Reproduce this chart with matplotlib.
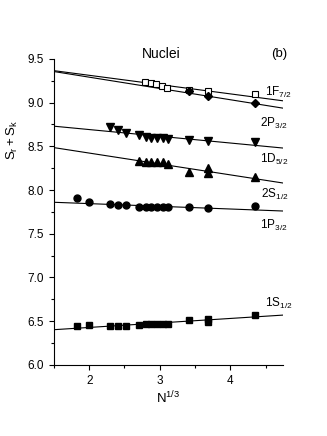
import numpy as np
import matplotlib
matplotlib.use('Agg')
import matplotlib.pyplot as plt
from matplotlib.ticker import MultipleLocator

plt.rcParams['font.family'] = ['Liberation Sans', 'DejaVu Sans']
plt.rcParams['mathtext.fontset'] = 'custom'
plt.rcParams['mathtext.rm'] = 'Liberation Sans'
plt.rcParams['mathtext.it'] = 'Liberation Sans'

# data (x = N^(1/3))
x_all = [1.82, 2.0, 2.29, 2.41, 2.52, 2.71, 2.80, 2.88, 2.96, 3.04, 3.11, 3.42, 3.69, 4.35]

# 1S_1/2 (filled squares)
s1_x = [1.82, 2.0, 2.29, 2.41, 2.52, 2.71, 2.80, 2.88, 2.96, 3.04, 3.11, 3.42, 3.69, 3.69, 4.35]
s1_y = [6.445, 6.456, 6.442, 6.442, 6.442, 6.46, 6.468, 6.468, 6.468, 6.464, 6.464, 6.51, 6.522, 6.495, 6.57]

# 2S_1/2 / 1P_3/2 (filled circles)
s2_y = [7.913, 7.864, 7.837, 7.83, 7.826, 7.81, 7.81, 7.81, 7.81, 7.81, 7.81, 7.803, 7.80, 7.815]

# 1D_5/2 (up triangles)
d1_x = [2.71, 2.80, 2.88, 2.96, 3.04, 3.11, 3.42, 3.69, 3.69, 4.35]
d1_y = [8.337, 8.325, 8.325, 8.325, 8.32, 8.30, 8.21, 8.256, 8.19, 8.154]

# 2P_3/2 (down triangles)
p2_x = [2.29, 2.41, 2.52, 2.71, 2.80, 2.88, 2.96, 3.04, 3.11, 3.42, 3.69, 4.35]
p2_y = [8.718, 8.688, 8.657, 8.63, 8.604, 8.60, 8.60, 8.593, 8.585, 8.573, 8.565, 8.554]

# 1F_7/2 (open squares)
f1_x = [2.79, 2.87, 2.94, 3.03, 3.10, 3.42, 3.69, 4.35]
f1_y = [9.235, 9.225, 9.21, 9.19, 9.17, 9.14, 9.13, 9.10]

# filled diamonds
dm_x = [3.42, 3.69, 4.35]
dm_y = [9.134, 9.077, 8.99]

# fitted lines, values at the axis ends
fit_x = [1.5, 4.75]
fit_1s = [6.403, 6.57]
fit_2s = [7.86, 7.76]
fit_1d = [8.485, 8.08]
fit_2p = [8.73, 8.48]
fit_1f = [9.365, 9.02]
fit_dm = [9.355, 8.936]

fig = plt.figure(figsize=(3.27, 4.36), dpi=100)
ax = fig.add_axes([0.165, 0.163, 0.701, 0.702])

for fy in [fit_1s, fit_2s, fit_1d, fit_2p, fit_1f, fit_dm]:
    ax.plot(fit_x, fy, color='black', lw=0.8)

ax.plot(s1_x, s1_y, 's', color='black', ms=5)
ax.plot(x_all, s2_y, 'o', color='black', ms=5)
ax.plot(d1_x, d1_y, '^', color='black', ms=5.5)
ax.plot(p2_x, p2_y, 'v', color='black', ms=5.5)
ax.plot(f1_x, f1_y, 's', mfc='white', mec='black', mew=0.8, ms=5)
ax.plot(dm_x, dm_y, 'D', color='black', ms=4.5)

labels = [(4.49, 9.12, r'$\mathregular{1F_{7/2}}$'),
          (4.42, 8.76, r'$\mathregular{2P_{3/2}}$'),
          (4.42, 8.35, r'$\mathregular{1D_{5/2}}$'),
          (4.44, 7.95, r'$\mathregular{2S_{1/2}}$'),
          (4.42, 7.60, r'$\mathregular{1P_{3/2}}$'),
          (4.49, 6.70, r'$\mathregular{1S_{1/2}}$')]
for lx, ly, txt in labels:
    ax.text(lx, ly, txt, fontsize=8.5, ha='left', va='center')

ax.text(3.02, 9.55, 'Nuclei', fontsize=10, ha='center', va='center')
ax.text(4.7, 9.55, '(b)', fontsize=9.5, ha='center', va='center')

ax.set_xlim(1.5, 4.75)
ax.set_ylim(6.0, 9.5)
ax.xaxis.set_major_locator(MultipleLocator(1))
ax.xaxis.set_minor_locator(MultipleLocator(0.5))
ax.yaxis.set_major_locator(MultipleLocator(0.5))
ax.yaxis.set_minor_locator(MultipleLocator(0.25))
ax.yaxis.set_major_formatter(matplotlib.ticker.FormatStrFormatter('%.1f'))
ax.tick_params(which='both', direction='out', labelsize=8.5, width=0.8)
ax.tick_params(which='major', length=3.5)
ax.tick_params(which='minor', length=2)
ax.spines['top'].set_visible(False)
ax.spines['right'].set_visible(False)

ax.set_xlabel(r'$\mathregular{N^{1/3}}$', fontsize=9.5, labelpad=2)
ax.set_ylabel(r'$\mathregular{S_r+S_k}$', fontsize=9.5)
ax.yaxis.set_label_coords(-0.148, 0.735)

fig.savefig('out.png', dpi=100)
